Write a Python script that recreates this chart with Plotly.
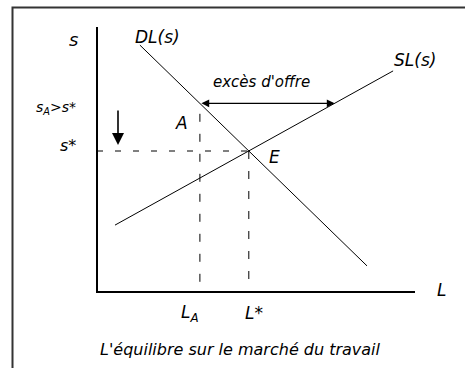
import plotly.graph_objects as go

# ---- data (in chart units: L horizontal, s vertical) ----
DL_L = [1.43, 9.0]
DL_s = [8.23, 0.87]
SL_L = [0.6, 9.87]
SL_s = [2.23, 7.37]
L_A, s_A = 3.43, 6.29
L_star, s_star = 5.06, 4.70
SL_at_sA = 7.92
AXIS_L_MAX, AXIS_S_MAX = 10.6, 8.83
DOWN_ARROW_L = [0.7, 0.7]
DOWN_ARROW_S = [6.1, 4.9]

FONT = "DejaVu Sans"
black = "black"

fig = go.Figure()

# curves
fig.add_trace(go.Scatter(x=DL_L, y=DL_s, mode="lines", line=dict(color=black, width=1), hoverinfo="skip"))
fig.add_trace(go.Scatter(x=SL_L, y=SL_s, mode="lines", line=dict(color=black, width=1), hoverinfo="skip"))

# axes
fig.add_trace(go.Scatter(x=[0, 0, AXIS_L_MAX], y=[AXIS_S_MAX, 0, 0], mode="lines",
                         line=dict(color=black, width=2), hoverinfo="skip"))

# dashed guides
fig.add_trace(go.Scatter(x=[0, L_star], y=[s_star, s_star], mode="lines",
                         line=dict(color=black, width=1, dash="6px,12px"), hoverinfo="skip"))
fig.add_trace(go.Scatter(x=[L_star, L_star], y=[s_star, 0], mode="lines",
                         line=dict(color=black, width=1, dash="8px,12px"), hoverinfo="skip"))
fig.add_trace(go.Scatter(x=[L_A, L_A], y=[s_A - 0.35, 0], mode="lines",
                         line=dict(color=black, width=1, dash="8px,12px"), hoverinfo="skip"))

annos = []
# excess supply double arrow
annos.append(dict(x=SL_at_sA, y=s_A, ax=L_A, ay=s_A, xref="x", yref="y", axref="x", ayref="y",
                  showarrow=True, arrowhead=2, startarrowhead=2, arrowside="end+start",
                  arrowwidth=1.2, arrowsize=1.3, arrowcolor=black, text=""))
# down arrow
annos.append(dict(x=DOWN_ARROW_L[1], y=DOWN_ARROW_S[1], ax=DOWN_ARROW_L[0], ay=DOWN_ARROW_S[0],
                  xref="x", yref="y", axref="x", ayref="y",
                  showarrow=True, arrowhead=2, arrowwidth=1.6, arrowsize=1.5, arrowcolor=black, text=""))

def label(x, y, t, size=17, xanchor="center"):
    annos.append(dict(x=x, y=y, text=t, showarrow=False, xref="x", yref="y", xanchor=xanchor,
                      font=dict(family=FONT, size=size, color=black)))

label(-0.77, 8.43, "<i>s</i>", 18)
label(2.0, 8.5, "<i>DL(s)</i>", 17)
label(10.6, 7.73, "<i>SL(s)</i>", 17)
label(5.47, 7.0, "<i>excès d'offre</i>", 15)
label(-1.37, 6.13, "<i>s<sub>A</sub>&gt;s*</i>", 14)
label(2.83, 5.63, "<i>A</i>", 17)
label(-0.97, 4.87, "<i>s*</i>", 16)
label(5.93, 4.5, "<i>E</i>", 17)
label(3.1, -0.73, "<i>L<sub>A</sub></i>", 17)
label(5.23, -0.7, "<i>L*</i>", 17)
label(11.47, 0.07, "<i>L</i>", 17)
label(4.77, -1.93, "<i>L'équilibre sur le marché du travail</i>", 16)

# frame
shapes = [dict(type="rect", xref="paper", yref="paper", x0=12.5/465, x1=1.02,
               y0=-0.02, y1=1 - 7.5/368, line=dict(color="#333", width=2))]

PX = 30.0
fig.update_layout(
    width=465, height=368, margin=dict(l=0, r=0, t=0, b=0),
    paper_bgcolor="white", plot_bgcolor="white", showlegend=False,
    xaxis=dict(range=[-97/PX, (465-97)/PX], visible=False, fixedrange=True),
    yaxis=dict(range=[-(368-292)/PX, 292/PX], visible=False, fixedrange=True),
    annotations=annos, shapes=shapes,
)
fig.write_html("out.html", config={"displayModeBar": False},
               post_script="document.body.style.margin='0';")
